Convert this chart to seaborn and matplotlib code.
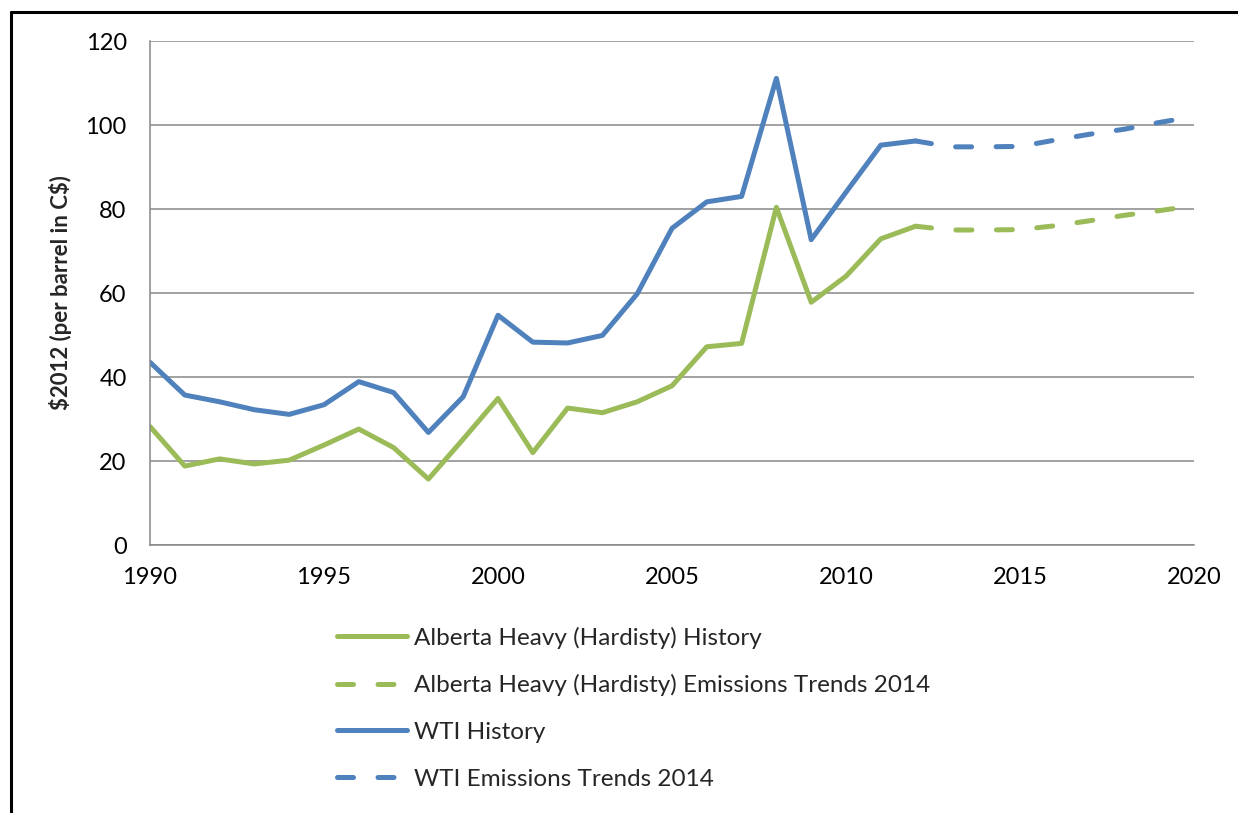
import numpy as np
import pandas as pd
import seaborn as sns
from matplotlib import pyplot as plt
from matplotlib.lines import Line2D

# values ($2012 per barrel, C$)
years_hist = list(range(1990, 2013))
alberta_hist = [28.2, 18.8, 20.5, 19.3, 20.2, 23.8, 27.6, 23.2, 15.7, 25.2, 34.9, 22.0,
                32.6, 31.5, 34.1, 37.9, 47.2, 48.0, 80.4, 57.8, 64.0, 72.9, 75.9]
wti_hist = [43.5, 35.7, 34.1, 32.2, 31.1, 33.4, 38.9, 36.3, 26.8, 35.3, 54.7, 48.3,
            48.1, 49.9, 59.8, 75.4, 81.7, 83.0, 111.1, 72.7, 84.0, 95.2, 96.2]
years_proj = list(range(2012, 2021))
alberta_proj = [75.9, 75.0, 75.0, 75.1, 76.0, 77.2, 78.5, 79.6, 80.8]
wti_proj = [96.2, 94.8, 94.8, 94.9, 96.4, 97.8, 99.0, 100.6, 102.0]

series_names = ["Alberta Heavy (Hardisty) History",
                "Alberta Heavy (Hardisty) Emissions Trends 2014",
                "WTI History",
                "WTI Emissions Trends 2014"]

green = "#9BBB59"
blue = "#4F81BD"
grey = "#878787"

frames = [
    pd.DataFrame({"year": years_hist, "price": alberta_hist, "series": series_names[0]}),
    pd.DataFrame({"year": years_proj, "price": alberta_proj, "series": series_names[1]}),
    pd.DataFrame({"year": years_hist, "price": wti_hist, "series": series_names[2]}),
    pd.DataFrame({"year": years_proj, "price": wti_proj, "series": series_names[3]}),
]
df = pd.concat(frames, ignore_index=True)

sns.set_style("white")
plt.rcParams["font.family"] = ["Lato", "DejaVu Sans"]

fig = plt.figure(figsize=(12.38, 8.13), dpi=100)
ax = fig.add_axes([150 / 1238, 1 - 545 / 813, (1194 - 150) / 1238, (545 - 41) / 813])

palette = {series_names[0]: green, series_names[1]: green,
           series_names[2]: blue, series_names[3]: blue}
dashes = {series_names[0]: "", series_names[1]: (3.2, 4.9),
          series_names[2]: "", series_names[3]: (3.2, 4.9)}

sns.lineplot(data=df, x="year", y="price", hue="series", style="series",
             hue_order=series_names, style_order=series_names,
             palette=palette, dashes=dashes, linewidth=3.6,
             dash_capstyle="round", solid_capstyle="round", solid_joinstyle="round",
             ax=ax)

ax.set_xlim(1990, 2020)
ax.set_ylim(0, 120)
ax.set_xticks(np.arange(1990, 2021, 5))
ax.set_yticks(np.arange(0, 121, 20))
ax.grid(axis="y", color=grey, linewidth=1.1)
ax.set_axisbelow(True)
for side in ["top", "right"]:
    ax.spines[side].set_visible(False)
for side in ["left", "bottom"]:
    ax.spines[side].set_color(grey)
    ax.spines[side].set_linewidth(1.1)
ax.tick_params(axis="both", which="major", direction="out", length=5.8, width=1.1,
               color=grey, labelsize=17, labelcolor="black")
ax.tick_params(axis="y", pad=11)
ax.tick_params(axis="x", pad=10)

ax.set_xlabel("")
ax.set_ylabel(r"\$2012 (per barrel in C\$)", fontsize=16, fontweight="bold", labelpad=10)

handles, labels = ax.get_legend_handles_labels()
ax.get_legend().remove()
fig.legend(handles, labels, loc="upper left", bbox_to_anchor=(327 / 1238, 1 - 617 / 813),
           frameon=False, fontsize=17.5, handlelength=2.9, handletextpad=0.3,
           labelspacing=1.05, borderaxespad=0)

# outer frame, cropped at right and bottom as in the reference
fig.add_artist(Line2D([11 / 1238, 11 / 1238], [0, 1 - 12 / 813], transform=fig.transFigure,
                      color="black", linewidth=2.2))
fig.add_artist(Line2D([11 / 1238, 1], [1 - 12 / 813, 1 - 12 / 813], transform=fig.transFigure,
                      color="black", linewidth=2.2))

fig.savefig("out.png", dpi=100, facecolor="white")
